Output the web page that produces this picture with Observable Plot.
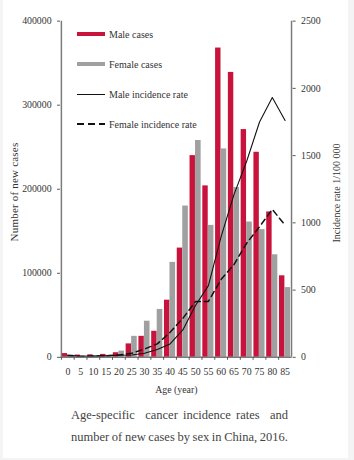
<!DOCTYPE html>
<html><head><meta charset="utf-8">
<script src="https://cdn.jsdelivr.net/npm/d3@7"></script>
<script src="https://cdn.jsdelivr.net/npm/@observablehq/plot@0.6"></script>
<style>
html,body{margin:0;padding:0;background:#f4f4f4;}
#wrap{position:relative;width:345px;height:458px;margin-left:3px;background:#fff;overflow:hidden;font-family:"Liberation Serif","Times New Roman",serif;color:#333;}
#chart{position:absolute;left:-3px;top:0;}
.leg{position:absolute;left:74px;height:12px;display:flex;align-items:center;font-size:10px;color:#333;white-space:nowrap;}
.sw{width:28px;margin-right:4px;}
.cap{position:absolute;left:68px;width:217px;font-size:12.5px;color:#444;text-align:justify;text-align-last:justify;white-space:nowrap;}
.ttl{position:absolute;white-space:nowrap;transform:translate(-50%,-50%) rotate(-90deg);color:#333;line-height:1;}
</style>
</head><body>
<div id="wrap">
  <div id="chart"></div>
  <div class="leg" style="top:28px"><div class="sw" style="height:4px;background:#c8143c"></div>Male cases</div>
  <div class="leg" style="top:58px"><div class="sw" style="height:4px;background:#a0a0a0"></div>Female cases</div>
  <div class="leg" style="top:88px"><div class="sw" style="height:1px;background:#111"></div>Male incidence rate</div>
  <div class="leg" style="top:118px"><div class="sw" style="height:1.5px;background:repeating-linear-gradient(90deg,#111 0 7px,transparent 7px 11px)"></div>Female incidence rate</div>
  <div class="ttl" style="left:11px;top:192px;font-size:11px;letter-spacing:0.2px">Number of new cases</div>
  <div class="ttl" style="left:334px;top:193px;font-size:10px">Incidence rate 1/100 000</div>
  <div class="cap" style="top:408px">Age-specific&nbsp; cancer incidence rates&nbsp; and</div>
  <div class="cap" style="top:430px;word-spacing:-1.5px">number of new cases by sex in China, 2016.</div>
</div>
<script>
const ages = ["0","5","10","15","20","25","30","35","40","45","50","55","60","65","70","75","80","85"];
const maleCases = [4500, 2700, 3000, 3500, 5500, 16000, 25000, 31000, 68000, 130000, 240000, 204000, 368000, 339000, 271000, 244000, 173000, 97000];
const femaleCases = [3000, 1700, 1800, 2400, 7400, 25000, 43000, 57000, 113000, 180000, 258000, 157000, 248000, 202000, 161000, 152000, 122000, 83000];
const maleRate = [15, 8, 9, 11, 15, 18, 30, 58, 100, 204, 387, 533, 900, 1210, 1460, 1750, 1932, 1761];
const femaleRate = [12, 7, 8, 12, 18, 30, 62, 100, 186, 290, 416, 416, 580, 690, 850, 971, 1100, 983];
const leftTicks = [0, 100000, 200000, 300000, 400000];
const rightTicks = [0, 500, 1000, 1500, 2000, 2500];

const RED = "#c8143c", GRAY = "#a0a0a0", AX = "#7a7a7a";
const k = 400000 / 2500;
const rows = ages.map((a, i) => ({age: a, male: maleCases[i], female: femaleCases[i], mr: maleRate[i] * k, fr: femaleRate[i] * k}));
const W = 354, ML = 61, MR = 57.3;
const bw = (W - ML - MR) / ages.length;

const chart = Plot.plot({
  width: W, height: 400,
  marginLeft: ML, marginRight: MR, marginTop: 21, marginBottom: 37,
  style: {fontFamily: '"Liberation Serif", "Times New Roman", serif', fontSize: "10px", color: "#333", background: "transparent", overflow: "visible"},
  x: {type: "band", domain: ages, padding: 0},
  y: {domain: [0, 400000]},
  marks: [
    Plot.barY(rows, {x: "age", y: "male", fill: RED, insetLeft: 0.8, insetRight: 6.7}),
    Plot.barY(rows, {x: "age", y: "female", fill: GRAY, insetLeft: 6.4, insetRight: 0.9}),
    Plot.line(rows, {x: "age", y: "mr", stroke: "#111", strokeWidth: 1.1}),
    Plot.line(rows, {x: "age", y: "fr", stroke: "#111", strokeWidth: 1.5, strokeDasharray: "6,4"}),
    Plot.ruleY([0], {stroke: AX, strokeWidth: 1.5}),
    Plot.ruleX([ages[0]], {dx: -bw / 2, stroke: AX, strokeWidth: 1.5}),
    Plot.ruleX([ages[ages.length - 1]], {dx: bw / 2, stroke: AX, strokeWidth: 1.5}),
    Plot.axisY({ticks: leftTicks, anchor: "left", tickSize: 3, tickPadding: 6, tickFormat: d => String(d), stroke: "#555", label: null}),
    Plot.axisY({ticks: rightTicks.map(d => d * k), anchor: "right", tickSize: 3, tickPadding: 6, tickFormat: d => String(Math.round(d / k)), stroke: "#555", label: null}),
    Plot.axisX({tickSize: 0, tickPadding: 11, label: "Age (year)", labelAnchor: "center", labelOffset: 36}),
    Plot.axisX({tickSize: 3, tickFormat: () => "", dx: -bw / 2, stroke: "#555", label: null})
  ]
});
document.getElementById("chart").appendChild(chart);
</script>
</body></html>
